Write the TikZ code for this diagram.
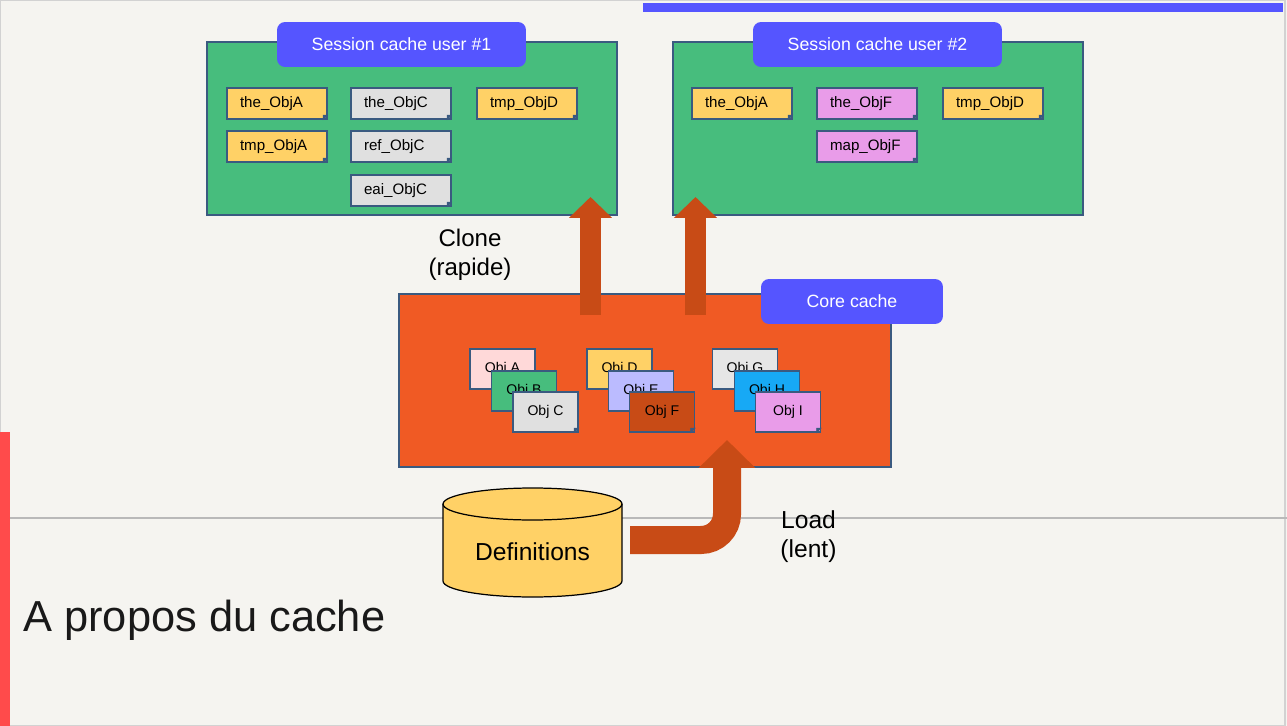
\documentclass[tikz,border=0pt]{standalone}
\usepackage{fontspec}
\setmainfont{Liberation Sans}
\usetikzlibrary{arrows.meta}

\definecolor{bgcol}{HTML}{F5F4F0}
\definecolor{tabblue}{HTML}{5555FF}
\definecolor{framecol}{HTML}{3A5A80}
\definecolor{sessgreen}{HTML}{47BD7D}
\definecolor{corered}{HTML}{F05A24}
\definecolor{arrowcol}{HTML}{C84B16}
\definecolor{objyellow}{HTML}{FFD166}
\definecolor{objgrey}{HTML}{E0E0E0}
\definecolor{objpink}{HTML}{E99CE9}
\definecolor{objrose}{HTML}{FFD9D9}
\definecolor{objlila}{HTML}{BBBBFF}
\definecolor{objblue}{HTML}{17A9F5}
\definecolor{objlight}{HTML}{E6E6E6}
\definecolor{barred}{HTML}{FF4B4B}

\begin{document}
\begin{tikzpicture}[
  x=0.02cm, y=-0.02cm,
  cachebox/.style={draw=framecol, line width=0.8pt, minimum width=8.2cm, minimum height=3.46cm},
  tab/.style={fill=tabblue, rounded corners=0.16cm, text=white, font=\fontsize{10.1}{12}\selectfont, minimum width=4.98cm, minimum height=0.9cm},
  note/.style={draw=framecol, line width=0.7pt, minimum width=2cm, minimum height=0.62cm, text width=1.48cm, inner xsep=0.26cm, align=left, font=\fontsize{8.6}{10}\selectfont},
  obj/.style={draw=framecol, line width=0.7pt, minimum width=1.3cm, minimum height=0.8cm, inner sep=0pt, font=\fontsize{8}{10}\selectfont},
  fold/.style={fill=framecol, draw=framecol, line width=0.3pt},
  clonearrow/.style={arrowcol, line width=0.42cm, -{Triangle[width=0.84cm, length=0.42cm]}},
  loadarrow/.style={arrowcol, line width=0.56cm, rounded corners=0.52cm, -{Triangle[width=1.1cm, length=0.56cm]}},
  label/.style={align=center, font=\fontsize{13.7}{16.5}\selectfont},
]

\useasboundingbox (0,0) rectangle (1287,726);

% ---------- slide background ----------
\fill[bgcol] (0,0) rectangle (1287,726);
\draw[gray!35, line width=0.6pt] (0.5,0.5) rectangle (1285,725.5);
\fill[tabblue] (643,3) rectangle (1283,12);
\fill[barred] (0,432) rectangle (10,726);
\draw[gray!55, line width=0.8pt] (10,518) -- (1287,518);

% ---------- session caches ----------
\node[cachebox, fill=sessgreen] (sess1) at (412,128.5) {};
\node[cachebox, fill=sessgreen] (sess2) at (878,128.5) {};
\node[tab] (tab1) at (401.5,44.5) {Session cache user \#1};
\node[tab] (tab2) at (877.5,44.5) {Session cache user \#2};

\foreach \nm/\x/\y/\col/\txt in {
    n1/277/103.5/objyellow/the\_ObjA, n2/401/103.5/objgrey/the\_ObjC,
    n3/527/103.5/objyellow/tmp\_ObjD, n4/277/146.5/objyellow/tmp\_ObjA,
    n5/401/146.5/objgrey/ref\_ObjC, n6/401/190.5/objgrey/eai\_ObjC,
    m1/742/103.5/objyellow/the\_ObjA, m2/867/103.5/objpink/the\_ObjF,
    m3/993/103.5/objyellow/tmp\_ObjD, m4/867/146.5/objpink/map\_ObjF}{
  \node[note, fill=\col] (\nm) at (\x,\y) {\txt};
  \draw[fold] ([xshift=-2.5pt]\nm.south east) -- ([yshift=2.5pt]\nm.south east)
    -- ([xshift=-2.5pt,yshift=2.5pt]\nm.south east) -- cycle;
}

% ---------- core cache ----------
\node[draw=framecol, line width=0.8pt, fill=corered, minimum width=9.84cm, minimum height=3.46cm] (core) at (645,380.5) {};
\node[tab, minimum width=3.64cm] (coretab) at (852,301.5) {Core cache};

\foreach \nm/\x/\y/\col/\txt in {
    oA/502.5/369/objrose/Obj A, oB/524/391/sessgreen/Obj B, oC/545.5/412/objgrey/Obj C,
    oD/619.5/369/objyellow/Obj D, oE/641/391/objlila/Obj E, oF/662/412/arrowcol/Obj F,
    oG/745/369/objlight/Obj G, oH/767/391/objblue/Obj H, oI/788/412/objpink/Obj I}{
  \node[obj, fill=\col] (\nm) at (\x,\y) {\txt};
  \draw[fold] ([xshift=-2.5pt]\nm.south east) -- ([yshift=2.5pt]\nm.south east)
    -- ([xshift=-2.5pt,yshift=2.5pt]\nm.south east) -- cycle;
}

% ---------- clone arrows ----------
\coordinate (cl1) at (590.5,315);
\coordinate (cl1top) at (590.5,197);
\coordinate (cl2) at (695.5,315);
\coordinate (cl2top) at (695.5,197);
\draw[clonearrow] (cl1) -- (cl1top);
\draw[clonearrow] (cl2) -- (cl2top);
\node[label] (clone) at (470,254.5) {Clone\\(rapide)};

% ---------- definitions store ----------
\draw[fill=objyellow, line width=0.7pt]
  (443,504) -- (443,581) arc[start angle=180, end angle=360, x radius=1.79cm, y radius=0.32cm]
  -- (622,504) arc[start angle=0, end angle=180, x radius=1.79cm, y radius=0.32cm] -- cycle;
\draw[line width=0.7pt] (443,504) arc[start angle=180, end angle=360, x radius=1.79cm, y radius=0.32cm];
\node[font=\fontsize{14}{16}\selectfont] (defs) at (532.5,552) {Definitions};

% ---------- load arrow ----------
\coordinate (ld1) at (630,540);
\coordinate (ld2) at (727,440);
\draw[loadarrow] (ld1) -| (ld2);
\node[label, font=\fontsize{14}{16.5}\selectfont] (load) at (808.5,537) {Load\\(lent)};

% ---------- title ----------
\node[anchor=base west, inner sep=0pt, text=black!90, font=\fontsize{24.7}{29}\selectfont] (title) at (23,631) {A propos du cache};

\end{tikzpicture}
\end{document}
